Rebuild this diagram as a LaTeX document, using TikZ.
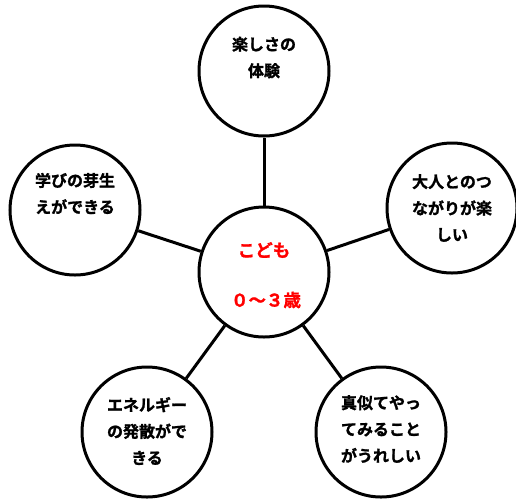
\documentclass[tikz,border=0pt]{standalone}
\usepackage{fontspec}
\newfontfamily\jp{Noto Sans CJK JP Bold}[FakeBold=1.3]
\begin{document}
\begin{tikzpicture}[x=1pt,y=-1pt,
  circ/.style={circle,draw,line width=3pt,minimum size=130pt,inner sep=0pt,fill=white},
  conn/.style={line width=3pt},
  txt/.style={font=\jp\fontsize{16}{26.5}\selectfont,align=center,inner sep=0pt},
  ctxt/.style={font=\jp\fontsize{17.5}{20}\selectfont,text=red,inner sep=0pt}]
\useasboundingbox (0,0) rectangle (516,499);
\node[circ] (c) at (264,272) {};
\node[circ] (t) at (264,71) {};
\node[circ] (l) at (75,210) {};
\node[circ] (r) at (452,208) {};
\node[circ] (bl) at (147,432) {};
\node[circ] (br) at (381,432) {};
\draw[conn] (c) -- (t);
\draw[conn] (c) -- (l);
\draw[conn] (c) -- (r);
\draw[conn] (c) -- (bl);
\draw[conn] (c) -- (br);
\node[txt] (tt) at (264,57.5) {楽しさの\\体験};
\node[txt] (lt) at (75,193.5) {学びの芽生\\えができる};
\node[txt] (rt) at (452,208) {大人とのつ\\ながりが楽\\しい};
\node[txt] (blt) at (147,431) {エネルギー\\の発散がで\\きる};
\node[txt] (brt) at (381,429) {真似てやっ\\てみること\\がうれしい};
\node[ctxt] (ct1) at (264,250) {こども};
\node[ctxt] (ct2) at (266,300) {０～３歳};
\end{tikzpicture}
\end{document}
